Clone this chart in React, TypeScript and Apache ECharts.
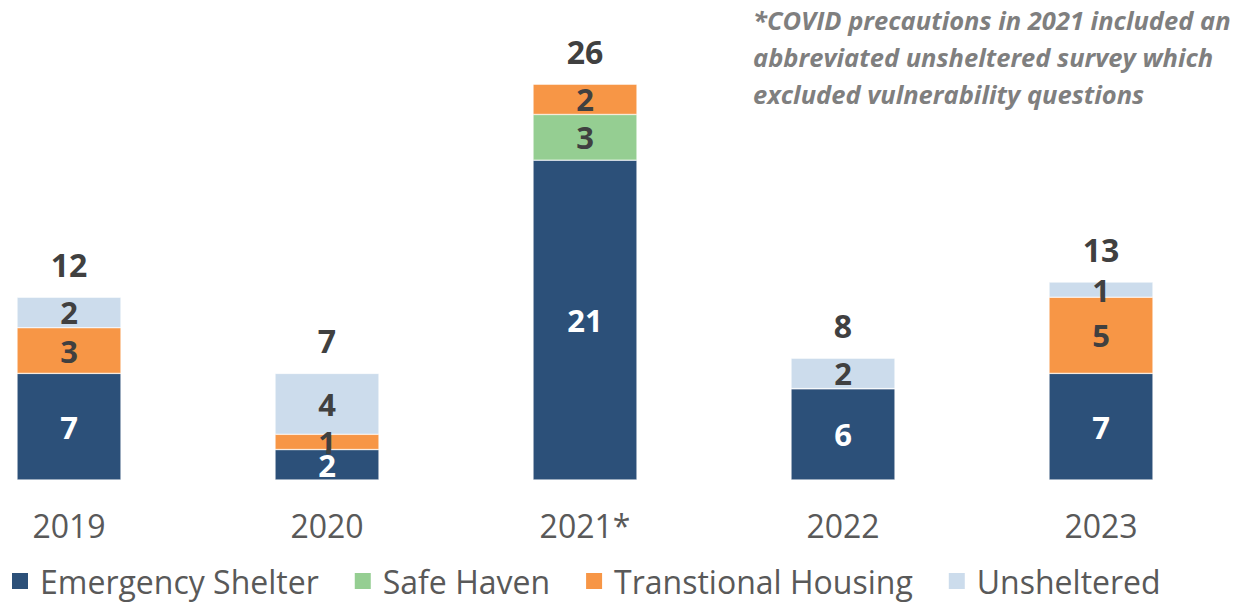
import React, { useEffect, useRef } from "react";
import * as echarts from "echarts";

const categories = ["2019", "2020", "2021*", "2022", "2023"];
const emergencyShelter = [7, 2, 21, 6, 7];
const safeHaven = [0, 0, 3, 0, 0];
const transitionalHousing = [3, 1, 2, 0, 5];
const unsheltered = [2, 4, 0, 2, 1];
const totals = [12, 7, 26, 8, 13];
const note = [
  "*COVID precautions in 2021 included an",
  "abbreviated unsheltered survey which",
  "excluded vulnerability questions",
];

const FONT = "'Open Sans', 'Noto Sans', sans-serif";
const SHIFT = 60;

export default function App() {
  const ref = useRef<HTMLDivElement>(null);
  useEffect(() => {
    if (!ref.current) return;
    const chart = echarts.init(ref.current, null, { renderer: "svg" });
    const segLabel = (color: string) => ({
      show: true,
      position: "inside",
      color,
      fontSize: 31,
      lineHeight: 14,
      fontWeight: "bold",
      fontFamily: FONT,
      formatter: (p: any) => (p.value > 0 ? String(p.value) : ""),
    });
    const mk = (name: string, data: number[], color: string, labelColor: string) => ({
      name,
      type: "bar",
      stack: "total",
      data,
      barWidth: 104,
      itemStyle: { color, borderColor: "#ffffff", borderWidth: 0.5 },
      label: segLabel(labelColor),
    });
    chart.setOption({
      animation: false,
      textStyle: { fontFamily: FONT },
      grid: { left: 0, width: 1290, top: 84, bottom: 123, containLabel: false },
      xAxis: {
        type: "category",
        data: categories,
        axisLine: { show: false },
        axisTick: { show: false },
        axisLabel: { color: "#595959", fontSize: 32, margin: 29, fontFamily: FONT },
      },
      yAxis: {
        type: "value",
        min: 0,
        max: 26,
        show: false,
        splitLine: { show: false },
      },
      legend: {
        left: SHIFT + 10,
        top: 565,
        padding: 0,
        itemWidth: 18,
        itemHeight: 18,
        itemGap: 34,
        icon: "rect",
        textStyle: {
          color: "#595959",
          fontSize: 32,
          lineHeight: 30,
          fontFamily: FONT,
          padding: [0, 0, 0, 6],
        },
        data: ["Emergency Shelter", "Safe Haven", "Transtional Housing", "Unsheltered"],
      },
      series: [
        mk("Emergency Shelter", emergencyShelter, "#2C5079", "#ffffff"),
        mk("Safe Haven", safeHaven, "#95CE92", "#404040"),
        mk("Transtional Housing", transitionalHousing, "#F79646", "#404040"),
        mk("Unsheltered", unsheltered, "#CCDCEC", "#404040"),
        {
          name: "Total",
          type: "scatter",
          data: totals,
          symbolSize: 1,
          itemStyle: { color: "rgba(0,0,0,0)", opacity: 1 },
          label: {
            show: true,
            position: "inside",
            offset: [0, -33],
            color: "#404040",
            fontSize: 32,
            fontWeight: "bold",
            fontFamily: FONT,
            formatter: (p: any) => String(p.value),
          },
        },
      ],
      graphic: note.map((t, i) => ({
        type: "text",
        x: SHIFT + 753,
        y: 20 + i * 37,
        style: {
          text: t,
          fill: "#7F7F7F",
          verticalAlign: "middle",
          font: `italic bold 25.5px ${FONT}`,
        },
      })),
    });
    return () => chart.dispose();
  }, []);
  return (
    <div
      ref={ref}
      style={{ position: "fixed", left: -SHIFT, top: 0, width: 1256 + SHIFT, height: 603, background: "#fff" }}
    />
  );
}
